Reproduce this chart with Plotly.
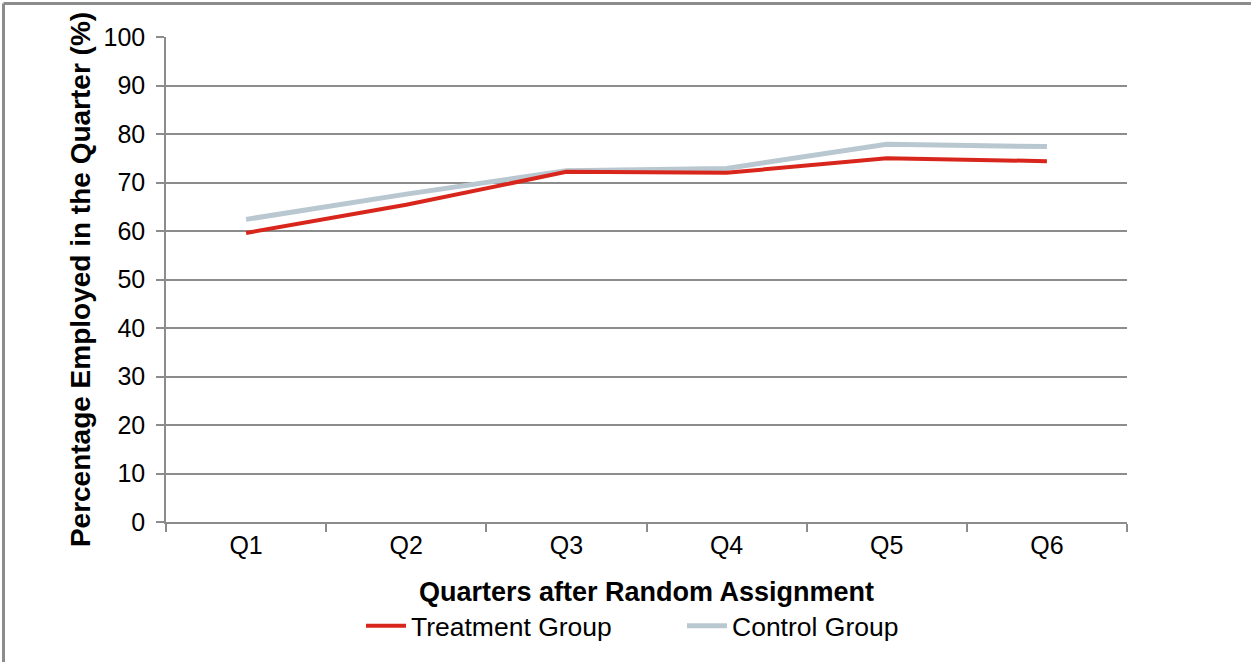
import plotly.graph_objects as go

quarters = ["Q1", "Q2", "Q3", "Q4", "Q5", "Q6"]
treatment = [59.6, 65.4, 72.2, 72.0, 75.0, 74.4]
control = [62.4, 67.6, 72.4, 72.9, 77.9, 77.4]
y_ticks = [0, 10, 20, 30, 40, 50, 60, 70, 80, 90, 100]

W, H = 1251, 662
L, R, T, B = 166, 124, 37, 140
pw, ph = W - L - R, H - T - B

fig = go.Figure()
fig.add_trace(go.Scatter(x=quarters, y=control, mode="lines", name="Control Group",
                         line=dict(color="#b9c7d0", width=5)))
fig.add_trace(go.Scatter(x=quarters, y=treatment, mode="lines", name="Treatment Group",
                         line=dict(color="#d9261c", width=4)))

font = "Liberation Sans, Arial, sans-serif"
grid = "#8c8c8c"

fig.update_layout(
    width=W, height=H,
    margin=dict(l=L, r=R, t=T, b=B, autoexpand=False),
    paper_bgcolor="white", plot_bgcolor="white",
    font=dict(family=font, color="#000000", size=25),
    showlegend=True,
    legend=dict(orientation="h", x=(361 - L) / pw, xanchor="left", y=(T + ph - 626) / ph, yanchor="middle",
                traceorder="reversed", font=dict(size=26.5), itemwidth=40,
                entrywidth=266, entrywidthmode="pixels",
                bgcolor="rgba(0,0,0,0)"),
    xaxis=dict(
        type="category", range=[-0.5, 5.5],
        showline=True, linecolor=grid, linewidth=1.5,
        ticks="outside", tickson="boundaries", ticklen=8, tickcolor=grid, tickwidth=1.5,
        showgrid=False, zeroline=False,
        tickfont=dict(size=25),
        title=dict(text="<b>Quarters after Random Assignment</b>", font=dict(size=27), standoff=24),
    ),
    yaxis=dict(
        range=[0, 100], tickvals=y_ticks,
        showline=True, linecolor=grid, linewidth=1.5,
        ticks="outside", ticklen=8, tickcolor=grid, tickwidth=1.5,
        showgrid=True, gridcolor=grid, gridwidth=1.5,
        zeroline=False, tickfont=dict(size=25), ticklabelstandoff=6,
        title=dict(text="<b>Percentage Employed in the Quarter (%)</b>", font=dict(size=28), standoff=5),
    ),
)

# frame at top and left edges of the figure
fig.add_shape(type="line", xref="paper", yref="paper",
              x0=(3.5 - L) / pw, x1=(W + 5 - L) / pw,
              y0=(T + ph - 3.5) / ph, y1=(T + ph - 3.5) / ph,
              line=dict(color="#8c8c8c", width=3))
fig.add_shape(type="line", xref="paper", yref="paper",
              x0=(3.5 - L) / pw, x1=(3.5 - L) / pw,
              y0=(T + ph - 3.5) / ph, y1=(T + ph - H - 5) / ph,
              line=dict(color="#8c8c8c", width=3))

fig.write_html("out.html", config={"displayModeBar": False},
               post_script="document.body.style.margin='0';document.body.style.overflow='hidden';")
